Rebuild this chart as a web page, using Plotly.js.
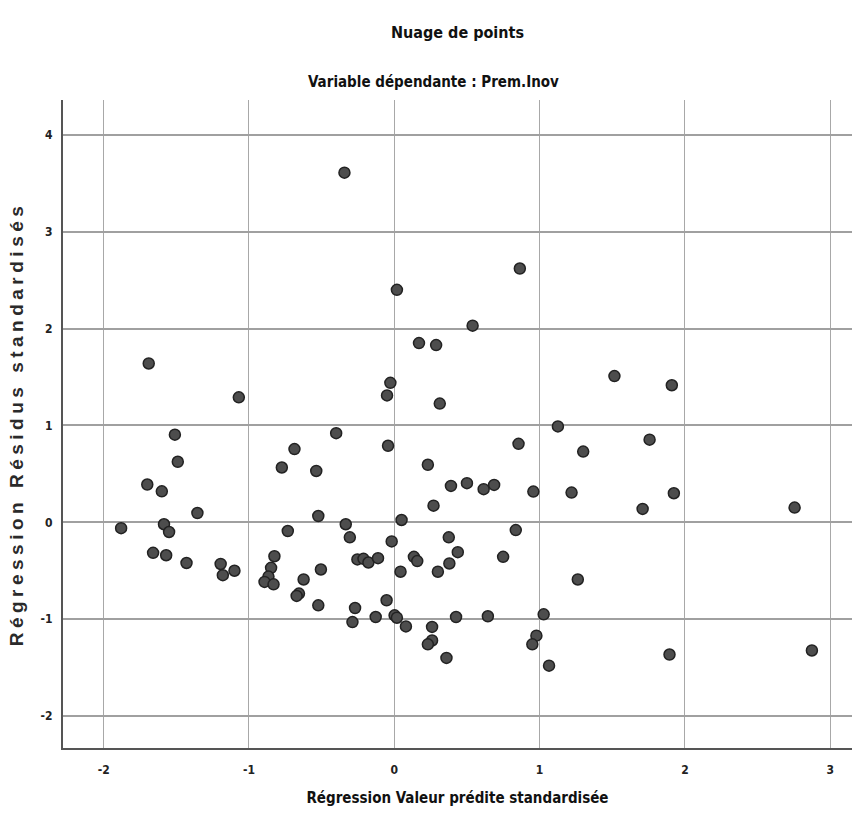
<!DOCTYPE html>
<html>
<head>
<meta charset="utf-8">
<script src="https://cdn.plot.ly/plotly-3.0.1.min.js"></script>
<style>
html,body{margin:0;padding:0;background:#fff;}
#chart{width:860px;height:839px;}
#chart .ytitle{letter-spacing:4.5px;}
</style>
</head>
<body>
<div id="chart"></div>
<script>
// Standardized predicted values (x) and standardized residuals (y)
const predicted = [
  -1.69, -1.07, -1.51, -1.49, -1.70, -1.60, -1.355, -1.88, -1.585, -1.55, -1.66, -1.57, -1.43, -1.195, -1.18, -1.10,
  -0.40, -0.687, -0.774, -0.537, -0.523, -0.733, -0.334, -0.306, -0.825, -0.848, -0.866, -0.893, -0.831, -0.624,
  -0.656, -0.672, -0.505, -0.254, -0.212, -0.178, -0.112, -0.523, -0.27, -0.288, -0.128, -0.053, 0.002, 0.018,
  0.08, -0.018, 0.05, 0.043, 0.135, 0.158,
  -0.343, 0.864, 0.018, 0.539, 0.17, 0.288, -0.027, -0.05, 0.313, 1.126, -0.043, 0.855,
  0.231, 0.39, 0.50, 0.615, 0.687, 0.957, 0.27, 0.836, 0.375, 0.437, 0.379, 0.749, 0.30, 0.26, 0.26, 0.231,
  0.425, 0.644, 0.359, 1.028, 0.978, 0.95, 1.065,
  1.515, 1.91, 1.757, 1.30, 1.22, 1.924, 1.709, 1.263, 1.894, 2.755, 2.874
];
const residuals = [
  1.64, 1.29, 0.905, 0.625, 0.39, 0.32, 0.096, -0.06, -0.02, -0.10, -0.315, -0.34, -0.42, -0.43, -0.546, -0.50,
  0.92, 0.756, 0.566, 0.53, 0.065, -0.09, -0.02, -0.155, -0.35, -0.47, -0.56, -0.615, -0.64, -0.59,
  -0.736, -0.76, -0.487, -0.383, -0.377, -0.415, -0.37, -0.857, -0.885, -1.03, -0.978, -0.805, -0.96, -0.985,
  -1.075, -0.197, 0.024, -0.51, -0.356, -0.40,
  3.61, 2.62, 2.40, 2.03, 1.85, 1.83, 1.44, 1.31, 1.226, 0.99, 0.79, 0.81,
  0.594, 0.376, 0.404, 0.342, 0.386, 0.317, 0.172, -0.08, -0.155, -0.308, -0.425, -0.356, -0.51, -1.08, -1.22, -1.26,
  -0.978, -0.97, -1.40, -0.95, -1.17, -1.26, -1.48,
  1.51, 1.415, 0.853, 0.73, 0.307, 0.30, 0.138, -0.59, -1.365, 0.152, -1.323
];
const xTicks = [-2, -1, 0, 1, 2, 3];
const yTicks = [-2, -1, 0, 1, 2, 3, 4];
const chartTitle = 'Nuage de points';
const chartSubtitle = 'Variable dépendante : Prem.Inov';
const xTitle = 'Régression Valeur prédite standardisée';
const yTitle = 'Régression Résidus standardisés';

const narrow = '"DejaVu Sans Condensed", "Liberation Sans Narrow", "Arial Narrow", sans-serif';
const wide = '"Liberation Sans", Arial, sans-serif';

const trace = {
  type: 'scatter',
  mode: 'markers',
  x: predicted,
  y: residuals,
  marker: {size: 11, color: '#4d4d4d', line: {color: '#222222', width: 1.5}},
  hoverinfo: 'x+y'
};

const layout = {
  width: 860, height: 839,
  margin: {l: 63, r: 8, t: 100, b: 91},
  paper_bgcolor: '#ffffff', plot_bgcolor: '#ffffff',
  showlegend: false,
  title: {
    text: chartTitle,
    font: {family: narrow, size: 16, color: '#111', weight: 'bold'},
    x: 0.5, xanchor: 'center', xref: 'paper',
    y: 1 - 32/839, yanchor: 'middle', yref: 'container'
  },
  annotations: [{
    text: chartSubtitle, showarrow: false,
    xref: 'paper', yref: 'paper', x: 0.47, y: 1 + 18/648,
    xanchor: 'center', yanchor: 'middle',
    font: {family: narrow, size: 15, color: '#111', weight: 'bold'}
  }],
  xaxis: {
    range: [-2.28, 3.15],
    tickvals: xTicks, ticktext: xTicks.map(String),
    showgrid: true, gridcolor: '#a8a8a8', gridwidth: 1,
    zeroline: false,
    showline: true, linecolor: '#555', linewidth: 2,
    ticks: '', ticklen: 0, ticklabelstandoff: 10,
    tickfont: {family: narrow, size: 12, color: '#222', weight: 'bold'},
    title: {text: xTitle, font: {family: narrow, size: 15, color: '#111', weight: 'bold'}, standoff: 16}
  },
  yaxis: {
    range: [-2.33, 4.36],
    tickvals: yTicks, ticktext: yTicks.map(String),
    showgrid: true, gridcolor: '#a0a0a0', gridwidth: 2,
    zeroline: false,
    showline: true, linecolor: '#555', linewidth: 2,
    ticks: '', ticklen: 0, ticklabelstandoff: 6,
    tickfont: {family: narrow, size: 12, color: '#222', weight: 'bold'},
    title: {text: yTitle, font: {family: wide, size: 19, color: '#2a2a2a', weight: 'bold'}, standoff: 12}
  }
};

Plotly.newPlot('chart', [trace], layout, {displayModeBar: false, staticPlot: true});
</script>
</body>
</html>
